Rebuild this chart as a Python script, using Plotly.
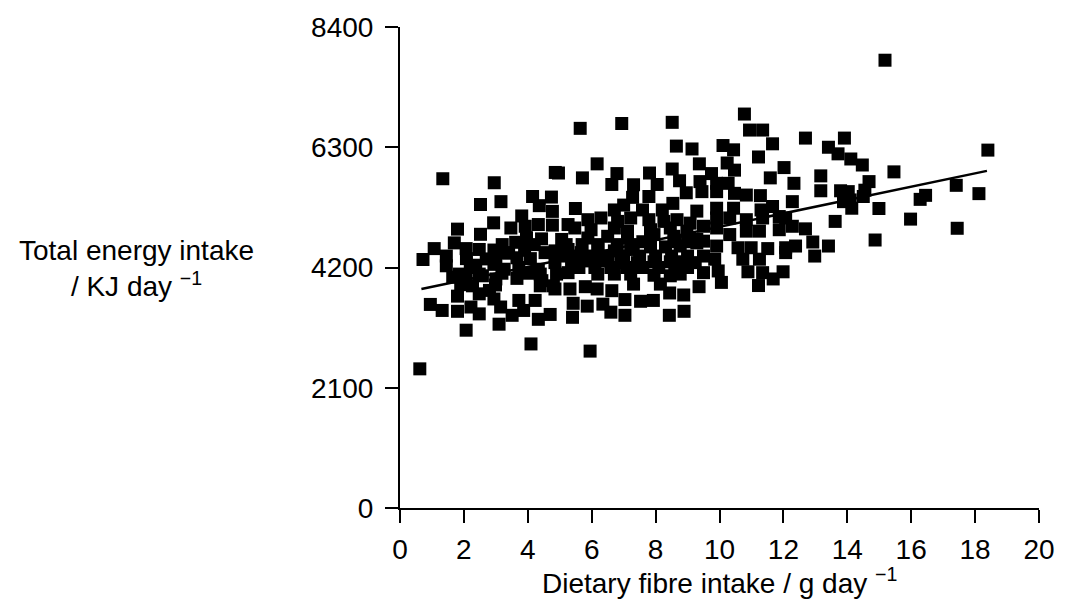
import plotly.graph_objects as go

# Dietary fibre intake (g/day) and total energy intake (kJ/day)
fibre = [
    1.34, 2.95, 4.86, 2.52, 3.16, 4.15, 4.74, 4.36, 4.77, 3.81,
    4.33, 4.77, 2.93, 1.80, 2.52, 3.47, 3.92, 3.96, 4.43, 3.62,
    1.70, 1.07, 2.07, 2.48, 2.94, 3.30, 1.45, 0.72, 2.08, 3.66,
    4.08, 4.54, 1.45, 2.37, 2.94, 3.26, 3.72, 4.33, 1.65, 2.07,
    2.58, 3.66, 4.44, 1.86, 2.48, 3.19, 4.39, 4.80, 2.27, 2.99,
    4.39, 1.80, 2.48, 2.94, 3.72, 4.23, 0.95, 1.32, 1.80, 2.22,
    2.48, 3.15, 3.51, 3.87, 4.33, 4.70, 3.10, 2.07, 4.10, 0.62,
    5.64, 6.94, 8.52, 8.65, 9.14, 6.17, 4.96, 5.71, 6.79, 7.81,
    8.52, 9.37, 6.63, 7.31, 8.05, 8.75, 9.39, 7.28, 7.79, 8.96,
    9.45, 5.49, 6.71, 7.00, 7.59, 8.21, 8.54, 9.29, 5.26, 5.88,
    6.29, 6.81, 7.22, 7.79, 8.26, 8.67, 9.08, 9.50, 5.47, 5.98,
    6.71, 7.12, 7.84, 8.46, 8.98, 5.06, 5.88, 6.50, 7.12, 7.95,
    8.57, 9.29, 7.84, 8.31, 8.77, 9.29, 4.85, 5.26, 5.67, 6.19,
    6.71, 7.22, 4.85, 5.37, 5.88, 6.40, 6.91, 7.43, 7.95, 8.46,
    8.88, 9.24, 9.50, 4.90, 5.26, 6.19, 6.71, 7.22, 7.95, 8.46,
    8.77, 4.85, 5.32, 5.80, 6.17, 6.63, 7.31, 8.15, 8.44, 8.88,
    9.36, 5.42, 5.86, 6.35, 6.60, 7.04, 7.53, 7.93, 5.40, 7.04,
    8.43, 8.89, 5.95, 10.78, 10.94, 11.35, 12.69, 13.91, 13.41, 13.71,
    14.11, 11.66, 10.11, 10.44, 11.22, 10.24, 12.02, 10.47, 9.75, 11.59,
    12.33, 13.17, 9.91, 10.27, 9.91, 10.47, 10.84, 11.28, 13.17, 13.79,
    13.88, 14.14, 12.28, 11.66, 11.30, 9.91, 10.44, 9.91, 10.84, 11.87,
    13.62, 10.32, 11.35, 12.07, 12.69, 12.28, 9.91, 10.32, 10.84, 11.25,
    11.87, 12.92, 13.41, 9.50, 9.91, 10.58, 10.99, 11.51, 12.07, 12.38,
    12.98, 9.50, 9.85, 10.73, 11.25, 12.07, 9.96, 10.89, 11.35, 11.99,
    10.06, 11.22, 11.68, 15.18, 14.47, 18.40, 15.46, 14.68, 14.55, 14.50,
    14.03, 14.09, 14.99, 16.28, 16.45, 17.41, 18.12, 15.98, 17.44, 14.87,
    5.00, 5.50, 6.00, 6.50, 7.00, 7.50, 8.00, 8.50, 9.00, 5.60,
    6.10, 6.60, 7.10, 7.60, 8.10, 8.60, 9.00, 5.20, 5.70, 6.20,
    6.80, 7.30, 7.60, 8.60, 9.00, 3.00, 3.40, 2.70, 3.90, 4.20,
    3.20, 2.20, 4.00, 3.00, 1.90, 2.80,
]
energy = [
    5750, 5680, 5860, 5300, 5350, 5440, 5430, 5280, 5180, 5100,
    4950, 4940, 4980, 4870, 4780, 4890, 4920, 4720, 4700, 4640,
    4630, 4530, 4530, 4515, 4505, 4460, 4400, 4340, 4355, 4370,
    4355, 4460, 4230, 4240, 4255, 4170, 4200, 4170, 4030, 4055,
    4055, 4010, 3970, 4085, 4085, 4100, 4085, 3880, 3880, 3895,
    3880, 3700, 3740, 3650, 3625, 3625, 3555, 3450, 3435, 3510,
    3390, 3510, 3365, 3450, 3295, 3380, 3210, 3105, 2865, 2430,
    6630, 6715, 6735, 6320, 6270, 6010, 5850, 5765, 5840, 5850,
    5920, 6010, 5650, 5645, 5650, 5715, 5700, 5425, 5440, 5505,
    5525, 5230, 5205, 5290, 5205, 5205, 5320, 5185, 4950, 5035,
    5065, 5005, 5065, 5035, 5005, 5035, 4975, 4920, 4890, 4860,
    4890, 4835, 4860, 4890, 4835, 4690, 4715, 4745, 4715, 4775,
    4745, 4690, 4560, 4560, 4575, 4630, 4490, 4515, 4460, 4515,
    4490, 4515, 4285, 4315, 4315, 4315, 4285, 4285, 4300, 4300,
    4300, 4285, 4110, 4085, 4110, 4085, 4085, 4085, 4065, 4055,
    4085, 3825, 3825, 3865, 3825, 3795, 3910, 3910, 3755, 3720,
    3865, 3575, 3525, 3560, 3420, 3640, 3610, 3625, 3330, 3365,
    3365, 3435, 2740, 6880, 6600, 6600, 6460, 6460, 6300, 6185,
    6095, 6360, 6330, 6255, 6130, 6025, 5945, 5900, 5840, 5765,
    5670, 5800, 5670, 5670, 5525, 5495, 5465, 5455, 5540, 5540,
    5350, 5235, 5350, 5265, 5205, 5235, 5235, 5065, 5035, 5090,
    5005, 5065, 5065, 5065, 4875, 4920, 4890, 4775, 4835, 4835,
    4860, 4645, 4575, 4660, 4575, 4545, 4545, 4530, 4545, 4575,
    4400, 4400, 4345, 4345, 4345, 4460, 4140, 4125, 4110, 4125,
    3940, 3885, 4000, 7820, 5990, 6250, 5870, 5700, 5550, 5440,
    5525, 5380, 5230, 5390, 5460, 5635, 5490, 5045, 4885, 4680,
    4400, 4400, 4400, 4400, 4400, 4400, 4400, 4400, 4400, 4200,
    4200, 4200, 4200, 4200, 4200, 4200, 4200, 4600, 4600, 4600,
    4600, 4600, 4650, 4650, 4650, 4350, 4450, 4350, 4500, 4600,
    4600, 4200, 4100, 4000, 3900, 3800,
]

# Fitted regression line end points
fit_x = [0.67, 18.37]
fit_y = [3824, 5887]

x_ticks = [0, 2, 4, 6, 8, 10, 12, 14, 16, 18, 20]
y_ticks = [0, 2100, 4200, 6300, 8400]

FONT = "Liberation Sans, Arial, sans-serif"

fig = go.Figure()
fig.add_trace(go.Scatter(
    x=fibre, y=energy, mode="markers",
    marker=dict(symbol="square", size=13, color="black", line=dict(width=0)),
    hoverinfo="x+y", showlegend=False,
))
fig.add_trace(go.Scatter(
    x=fit_x, y=fit_y, mode="lines",
    line=dict(color="black", width=2.5), showlegend=False,
))

axis_common = dict(
    showgrid=False, zeroline=False, showline=True, linecolor="black", linewidth=2,
    ticks="outside", ticklen=13, tickwidth=2, tickcolor="black",
    tickfont=dict(family=FONT, size=28, color="black"),
)
fig.update_xaxes(range=[0, 20], tickvals=x_ticks, ticklabelstandoff=2, **axis_common)
fig.update_yaxes(range=[0, 8400], tickvals=y_ticks, ticklabelstandoff=6, **axis_common)

fig.add_annotation(
    text="Total energy intake<br>/ KJ day <sup>\u22121</sup>",
    xref="paper", yref="paper", x=-0.412, y=0.497,
    xanchor="center", yanchor="middle", align="center", showarrow=False,
    font=dict(family=FONT, size=28, color="black"),
)
fig.add_annotation(
    text="Dietary fibre intake / g day <sup>\u22121</sup>",
    xref="paper", yref="paper", x=0.5, y=-0.152,
    xanchor="center", yanchor="middle", showarrow=False,
    font=dict(family=FONT, size=28, color="black"),
)

fig.update_layout(
    width=1067, height=601,
    margin=dict(l=400, r=18, t=22, b=93),
    paper_bgcolor="white", plot_bgcolor="white",
)

fig.write_html("out.html", config={"displayModeBar": False})

# remove default page margin so the figure sits at the window's top-left corner
with open("out.html", encoding="utf-8") as f:
    html = f.read()
html = html.replace("<head>", "<head><style>html,body{margin:0;padding:0;overflow:hidden;}</style>", 1)
with open("out.html", "w", encoding="utf-8") as f:
    f.write(html)
